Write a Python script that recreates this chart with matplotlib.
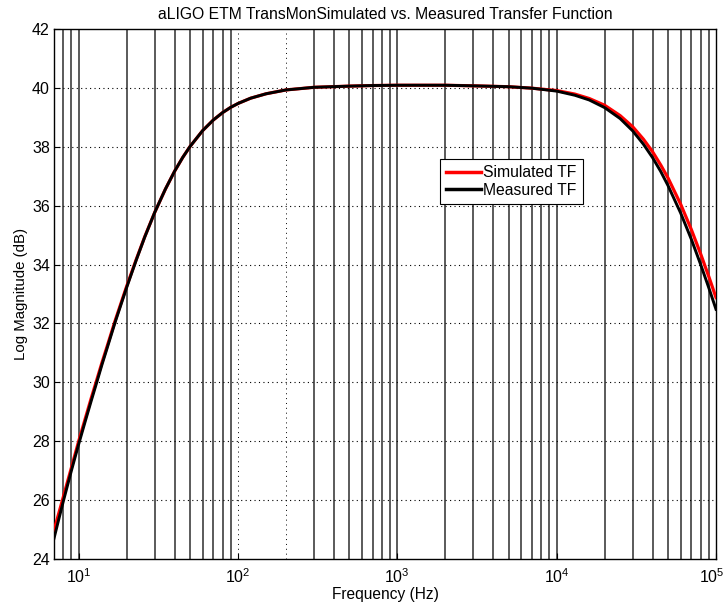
import matplotlib
matplotlib.use("Agg")
import matplotlib.pyplot as plt
import matplotlib.transforms as mtransforms
from matplotlib.ticker import FixedLocator, NullLocator, FixedFormatter

plt.rcParams['font.family'] = ['Liberation Sans', 'DejaVu Sans']
plt.rcParams['mathtext.fontset'] = 'custom'
plt.rcParams['mathtext.rm'] = 'Liberation Sans'
plt.rcParams['mathtext.it'] = 'Liberation Sans'
plt.rcParams['mathtext.default'] = 'regular'

# ---- data ----
freq = [7, 7.5, 8, 9, 10, 11, 12, 13, 14, 15, 17, 20, 23, 26, 30, 35, 40, 45,
        50, 60, 70, 80, 90, 100, 120, 150, 200, 300, 500, 700, 1000, 2000,
        3000, 5000, 7000, 10000, 13000, 16000, 20000, 25000, 30000, 35000,
        40000, 45000, 50000, 60000, 70000, 80000, 90000, 100000]
measured = [24.70, 25.35, 25.95, 27.00, 27.90, 28.68, 29.38, 30.01, 30.60,
            31.12, 32.07, 33.22, 34.16, 34.94, 35.77, 36.56, 37.17, 37.64,
            38.01, 38.55, 38.91, 39.16, 39.34, 39.47, 39.65, 39.80, 39.93,
            40.02, 40.06, 40.08, 40.09, 40.09, 40.07, 40.04, 39.99, 39.89,
            39.75, 39.59, 39.33, 38.96, 38.54, 38.09, 37.63, 37.16, 36.68,
            35.75, 34.86, 34.01, 33.22, 32.48]
simulated = [24.97, 25.55, 26.10, 27.10, 28.00, 28.77, 29.47, 30.09, 30.67,
             31.18, 32.12, 33.26, 34.18, 34.95, 35.77, 36.56, 37.17, 37.64,
             38.01, 38.55, 38.91, 39.16, 39.34, 39.47, 39.65, 39.80, 39.93,
             40.02, 40.06, 40.08, 40.09, 40.09, 40.07, 40.04, 39.99, 39.91,
             39.79, 39.64, 39.41, 39.06, 38.68, 38.26, 37.83, 37.38, 36.94,
             36.05, 35.19, 34.37, 33.60, 32.88]

series_labels = ['Simulated TF', 'Measured TF']
title = 'aLIGO ETM TransMonSimulated vs. Measured Transfer Function'
xlabel = 'Frequency (Hz)'
ylabel = 'Log Magnitude (dB)'
xtick_vals = [10, 100, 1000, 10000, 100000]
xtick_labels = ['$10^{1}$', '$10^{2}$', '$10^{3}$', '$10^{4}$', '$10^{5}$']
ytick_vals = [24, 26, 28, 30, 32, 34, 36, 38, 40, 42]

fig = plt.figure(figsize=(7.27, 6.07), dpi=100)
ax = fig.add_axes([54/727, 1-559/607, (716-54)/727, (559-29)/607])

ax.set_xscale('log')
ax.set_xlim(7.0, 1e5)
ax.set_ylim(24, 42)

# vertical grid lines (solid gray; 100 and 200 appear dotted in the reference)
for k in range(0, 5):
    for m in range(1, 10):
        f = m * 10 ** k
        if f < 7.0 or f > 1e5:
            continue
        if f in (100, 200):
            ax.axvline(f, color='black', lw=0.7, ls=(0, (1, 4)), zorder=1)
        else:
            ax.axvline(f, color='#5a5a5a', lw=1.4, zorder=1)
# horizontal dotted grid
for v in ytick_vals[1:-1]:
    ax.axhline(v, color='black', lw=0.8, ls=(0, (1, 3)), zorder=1)

ax.plot(freq, simulated, color='#ff0000', lw=2.3, label=series_labels[0], zorder=3)
ax.plot(freq, measured, color='black', lw=2.1, label=series_labels[1], zorder=4)

ax.xaxis.set_major_locator(FixedLocator(xtick_vals))
ax.xaxis.set_major_formatter(FixedFormatter(xtick_labels))
ax.xaxis.set_minor_locator(NullLocator())
ax.set_yticks(ytick_vals)
ax.set_yticklabels([str(v) for v in ytick_vals])
ax.tick_params(direction='in', length=4, width=0.8, labelsize=11.5, colors='black')
ax.tick_params(axis='x', pad=6)
ax.tick_params(axis='y', pad=3)
for s in ax.spines.values():
    s.set_linewidth(1.0)
    s.set_color('black')

# nudge the last x tick label slightly left so it stays inside the figure
last = ax.get_xticklabels()[-1]
last.set_transform(last.get_transform() +
                   mtransforms.ScaledTranslation(-4/100, 0, fig.dpi_scale_trans))

ax.set_title(title, fontsize=11.3, pad=7)
ax.set_xlabel(xlabel, fontsize=11.2, labelpad=1)
ax.set_ylabel(ylabel, fontsize=10.8, labelpad=3)

leg = ax.legend(loc='upper left', bbox_to_anchor=((440-54)/662, (559-159)/530),
                fontsize=11.3, frameon=True, fancybox=False, framealpha=1,
                edgecolor='black', handlelength=2.2, handletextpad=0.15,
                borderpad=0.4, labelspacing=0.15, borderaxespad=0)
leg.get_frame().set_linewidth(0.8)
for line in leg.get_lines():
    line.set_linewidth(2.5)

fig.savefig('out.png', dpi=100)
